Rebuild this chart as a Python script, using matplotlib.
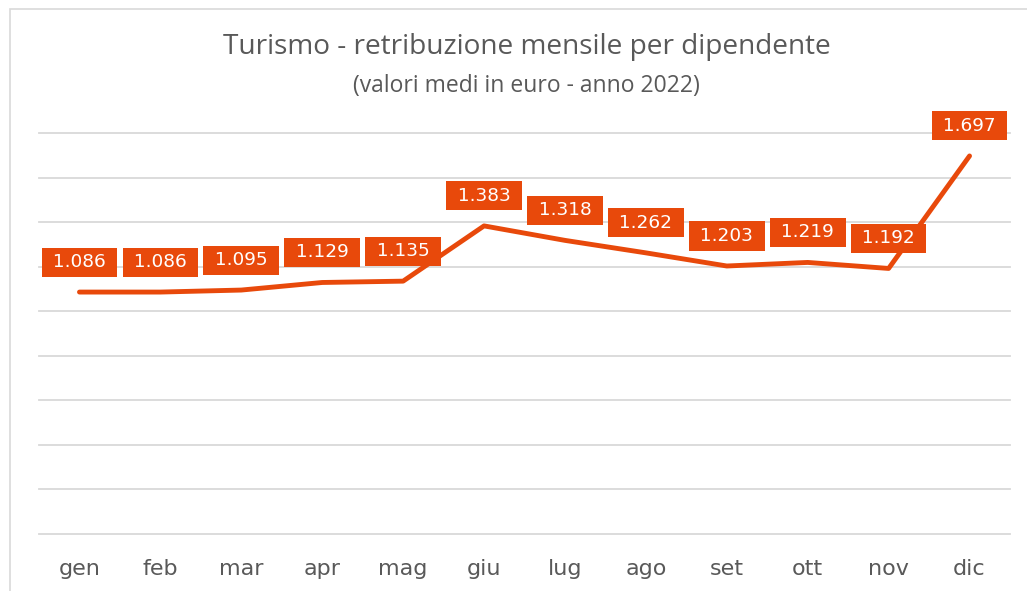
import numpy as np
import matplotlib
matplotlib.use("Agg")
import matplotlib.pyplot as plt
from matplotlib.patches import Rectangle

months = ["gen", "feb", "mar", "apr", "mag", "giu",
          "lug", "ago", "set", "ott", "nov", "dic"]
salary = [1086, 1086, 1095, 1129, 1135, 1383,
          1318, 1262, 1203, 1219, 1192, 1697]
y_ticks = list(range(0, 2000, 200))

orange = "#E8490B"
grey_txt = "#595959"
grid_col = "#D9D9D9"

fig = plt.figure(figsize=(10.27, 5.91), dpi=100)
ax = fig.add_axes([39 / 1027, 57 / 591, 971 / 1027, 401 / 591])

x = np.arange(len(months))
ax.plot(x, salary, color=orange, linewidth=3.5, solid_capstyle="round",
        solid_joinstyle="round", zorder=3)

for xi, v in zip(x, salary):
    lbl = " " + f"{v / 1000:.3f}" + " "
    ax.annotate(lbl, (xi, v), xytext=(0, 30), textcoords="offset pixels",
                ha="center", va="center", fontsize=13.3, color="white",
                family="DejaVu Sans",
                bbox=dict(boxstyle="square,pad=0.3", fc=orange, ec="none"),
                zorder=4)

ax.set_xlim(-0.5, len(months) - 0.5)
ax.set_ylim(0, 1800)
ax.set_yticks(y_ticks)
ax.set_yticklabels([])
ax.tick_params(axis="y", length=0)
ax.set_xticks(x)
ax.set_xticklabels(months, fontsize=16, color=grey_txt, family="DejaVu Sans")
ax.tick_params(axis="x", length=0, pad=18)
ax.grid(axis="y", color=grid_col, linewidth=1.3)
for gl in ax.get_ygridlines():
    gl.set_clip_on(False)
for s in ax.spines.values():
    s.set_visible(False)

fig.text(527 / 1027, 1 - 47 / 591, "Turismo - retribuzione mensile per dipendente",
         ha="center", va="center", fontsize=20.2, color=grey_txt, family="Open Sans")
fig.text(526 / 1027, 1 - 86 / 591, "(valori medi in euro - anno 2022)",
         ha="center", va="center", fontsize=16.5, color=grey_txt, family="Open Sans")

fig.patches.append(Rectangle((10 / 1027, -0.05), 1.2, 1.05 - 9 / 591,
                             transform=fig.transFigure, fill=False,
                             ec=grid_col, lw=1.2))

fig.savefig("out.png", dpi=100)
